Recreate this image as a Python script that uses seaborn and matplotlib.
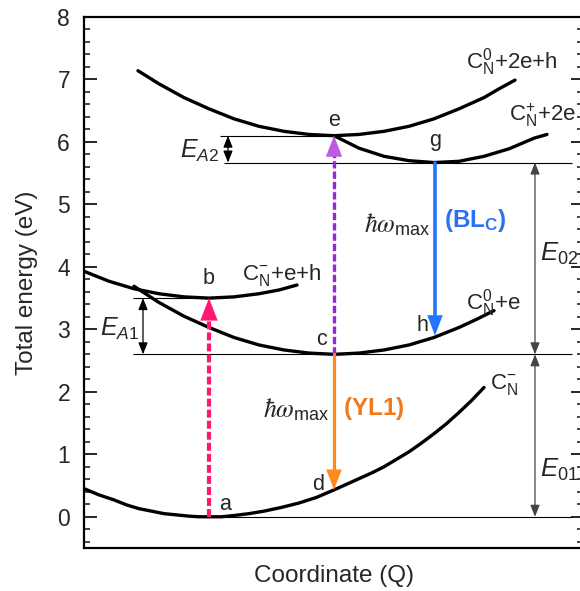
import numpy as np
import pandas as pd
import matplotlib
matplotlib.use("Agg")
import matplotlib.pyplot as plt
from matplotlib.ticker import MultipleLocator
import seaborn as sns

# ---------------- data ----------------
# configuration-coordinate curves: Q (arb. units) and total energy (eV)
ground_Q = [0, 0.3, 0.6, 0.85, 1.1, 1.35, 1.6, 1.85, 2.1, 2.3, 2.5, 2.75, 3.0, 3.3, 3.6, 3.95, 4.3, 4.65,
            5.0, 5.25, 5.5, 5.75, 6.0, 6.25, 6.5, 6.75, 7.0, 7.25, 7.5, 7.75, 8.0]
ground_E = [0.45, 0.35, 0.27, 0.19, 0.13, 0.09, 0.05, 0.03, 0.01, 0.0, 0.0, 0.0, 0.02, 0.05, 0.09, 0.15,
            0.22, 0.31, 0.43, 0.52, 0.61, 0.70, 0.80, 0.92, 1.04, 1.18, 1.33, 1.49, 1.67, 1.86, 2.07]

b_Q = [0, 0.5, 1.0, 1.5, 2.0, 2.5, 3.0, 3.5, 3.9, 4.26]
b_E = [3.93, 3.77, 3.65, 3.57, 3.52, 3.50, 3.52, 3.57, 3.63, 3.71]

c_Q = [1.0, 1.5, 2.0, 2.5, 3.0, 3.5, 4.0, 4.5, 5.0, 5.5, 6.0, 6.5, 7.0, 7.5, 7.85, 8.2]
c_E = [3.69, 3.43, 3.21, 3.03, 2.87, 2.75, 2.67, 2.62, 2.60, 2.62, 2.67, 2.75, 2.87, 3.03, 3.16, 3.30]

e_Q = [1.08, 1.5, 2.0, 2.5, 3.0, 3.5, 4.0, 4.5, 5.0, 5.5, 6.0, 6.5, 7.0, 7.5, 8.0, 8.3, 8.62]
e_E = [7.14, 6.93, 6.71, 6.53, 6.37, 6.25, 6.17, 6.12, 6.10, 6.12, 6.17, 6.25, 6.37, 6.53, 6.71, 6.85, 6.99]

g_Q = [5.0, 5.5, 6.0, 6.5, 7.0, 7.5, 8.0, 8.5, 9.0, 9.26]
g_E = [6.10, 5.90, 5.77, 5.70, 5.67, 5.69, 5.77, 5.89, 6.06, 6.12]

# key points
Q_a, Q_c, Q_g = 2.5, 5.0, 7.02
E_a, E_b, E_c, E_d, E_e, E_g, E_h = 0.0, 3.5, 2.6, 0.43, 6.1, 5.67, 2.9

# reference levels: (energy, Q start, Q end)
lvl_E = [E_e, E_g, E_b, E_c, E_a]
lvl_Q0 = [2.72, 2.8, 0.98, 0.98, Q_a]
lvl_Q1 = [Q_c, 9.76, Q_a, 9.76, 9.76]

y_ticks = [0, 1, 2, 3, 4, 5, 6, 7, 8]

# ---------------- style ----------------
sns.set_style("white")
plt.rcParams["font.family"] = ["Liberation Sans", "DejaVu Sans"]
plt.rcParams["mathtext.fontset"] = "custom"
plt.rcParams["mathtext.rm"] = "Liberation Sans"
plt.rcParams["mathtext.it"] = "Liberation Sans:italic"
plt.rcParams["mathtext.bf"] = "Liberation Sans:bold"

fig = plt.figure(figsize=(5.8, 5.91), dpi=100)
ax = fig.add_axes([84 / 580, 1 - 548 / 591, 499 / 580, 531 / 591])

curves = pd.concat([
    pd.DataFrame({"curve": name, "Q": q, "E": e})
    for name, q, e in [("ground", ground_Q, ground_E), ("b", b_Q, b_E),
                       ("c", c_Q, c_E), ("e", e_Q, e_E), ("g", g_Q, g_E)]
], ignore_index=True)

sns.lineplot(data=curves, x="Q", y="E", units="curve", estimator=None,
             sort=False, color="black", lw=2.4, ax=ax, legend=False)

# thin reference levels
ax.hlines(lvl_E, lvl_Q0, lvl_Q1, color="black", lw=0.8, zorder=1)

def head(x, tip, tail, color, hl, hw):
    ax.annotate("", xy=(x, tip), xytext=(x, tail),
                arrowprops=dict(arrowstyle=f"-|>,head_length={hl},head_width={hw}",
                                color=color, lw=0.1, shrinkA=0, shrinkB=0),
                zorder=5)

# pink dashed a -> b
pink = "#FF1870"
ax.plot([Q_a, Q_a], [E_a, E_b - 0.25], color=pink, lw=3.0, ls=(0, (1.9, 0.75)), zorder=4)
head(Q_a, E_b, E_b - 0.3, pink, 1.6, 0.62)

# purple dashed c -> e
purple = "#9A25D6"
ax.plot([Q_c, Q_c], [E_c, E_e - 0.25], color=purple, lw=2.4, ls=(0, (2.2, 0.9)), zorder=4)
head(Q_c, E_e, E_e - 0.3, "#BE5CE0", 1.5, 0.58)

# orange c -> d
orange = "#FF8A1C"
ax.plot([Q_c, Q_c], [E_c, E_d + 0.25], color=orange, lw=2.3, zorder=4)
head(Q_c, E_d, E_d + 0.3, orange, 1.45, 0.55)

# blue g -> h
blue = "#2274FF"
ax.plot([Q_g, Q_g], [E_g, E_h + 0.25], color=blue, lw=2.6, zorder=4)
head(Q_g, E_h, E_h + 0.3, blue, 1.45, 0.55)

# double arrows
def dbl(x, y0, y1, color):
    ax.annotate("", xy=(x, y1), xytext=(x, y0),
                arrowprops=dict(arrowstyle="<|-|>,head_length=0.7,head_width=0.28",
                                color=color, lw=0.9, shrinkA=0, shrinkB=0))

dbl(2.88, E_g, E_e, "black")
dbl(1.18, E_c, E_b, "black")
dbl(9.02, E_c, E_g, "#444444")
dbl(9.02, E_a, E_c, "#444444")

# labels of points
pt_kw = dict(fontsize=15.5, ha="center", va="center")
ax.text(Q_a + 0.33, 0.2, "a", **pt_kw)
ax.text(Q_a, 3.82, "b", **pt_kw)
ax.text(Q_c - 0.25, 2.84, "c", **pt_kw)
ax.text(Q_c - 0.32, 0.52, "d", **pt_kw)
ax.text(Q_c, 6.34, "e", **pt_kw)
ax.text(Q_g, 6.03, "g", **pt_kw)
ax.text(Q_g - 0.25, 3.06, "h", **pt_kw)

# state labels
st_kw = dict(fontsize=16, ha="left", va="center")
ax.text(7.64, 7.28, r"$\mathregular{C}_\mathregular{N}^\mathregular{0}$+2e+h", **st_kw)
ax.text(8.5, 6.42, r"$\mathregular{C}_\mathregular{N}^\mathregular{+}$+2e", **st_kw)
ax.text(3.17, 3.87, r"$\mathregular{C}_\mathregular{N}^\mathregular{-}$+e+h", **st_kw)
ax.text(7.65, 3.42, r"$\mathregular{C}_\mathregular{N}^\mathregular{0}$+e", **st_kw)
ax.text(8.12, 2.12, r"$\mathregular{C}_\mathregular{N}^\mathregular{-}$", **st_kw)

# energy labels
ax.text(1.1, 3.0, r"$E_{\mathit{A1}}$", fontsize=18, ha="right", va="center")
ax.text(2.7, 5.85, r"$E_{\mathit{A2}}$", fontsize=18, ha="right", va="center")
ax.text(9.12, 4.2, r"$E_{\mathregular{02}}$", fontsize=18.5, ha="left", va="center")
ax.text(9.12, 0.75, r"$E_{\mathregular{01}}$", fontsize=18.5, ha="left", va="center")

# transition labels
ax.text(6.92, 4.68, r"$\hbar\omega_{\mathregular{max}}$", fontsize=18.5, ha="right",
        va="center", math_fontfamily="stix")
ax.text(7.2, 4.74, r"$\mathbf{(BL_C)}$", fontsize=17.5, color="#2A72F4", ha="left", va="center")
ax.text(4.9, 1.72, r"$\hbar\omega_{\mathregular{max}}$", fontsize=18.5, ha="right",
        va="center", math_fontfamily="stix")
ax.text(5.18, 1.74, r"$\mathbf{(YL1)}$", fontsize=17.5, color="#F27A1E", ha="left", va="center")

# axes styling
ax.set_xlim(0, 9.98)
ax.set_ylim(-0.5, 8)
ax.set_xticks([])
ax.set_yticks(y_ticks)
ax.yaxis.set_minor_locator(MultipleLocator(0.2))
ax.tick_params(axis="y", which="major", direction="in", length=9, width=1.4,
               left=True, right=True, labelsize=16.5, pad=10)
ax.tick_params(axis="y", which="minor", direction="in", length=4, width=1.2,
               left=True, right=True)
for s in ax.spines.values():
    s.set_linewidth(1.6)
    s.set_color("black")
ax.set_xlabel("Coordinate (Q)", fontsize=17.5, labelpad=12)
ax.set_ylabel("Total energy (eV)", fontsize=17.5, labelpad=14)

fig.savefig("out.png", dpi=100)
